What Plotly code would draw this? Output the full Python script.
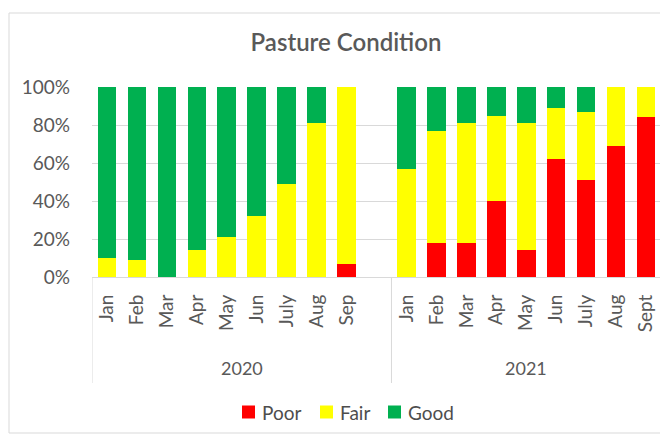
import plotly.graph_objects as go

categories = ["2020-Jan", "2020-Feb", "2020-Mar", "2020-Apr", "2020-May", "2020-Jun",
              "2020-July", "2020-Aug", "2020-Sep", "2020-gap",
              "2021-Jan", "2021-Feb", "2021-Mar", "2021-Apr", "2021-May", "2021-Jun",
              "2021-July", "2021-Aug", "2021-Sept"]
tick_labels = ["Jan", "Feb", "Mar", "Apr", "May", "Jun", "July", "Aug", "Sep", "",
               "Jan", "Feb", "Mar", "Apr", "May", "Jun", "July", "Aug", "Sept"]
years = ["2020", "2021"]
series_names = ["Poor", "Fair", "Good"]
series_colors = ["#FF0000", "#FFFF00", "#00B050"]

poor = [0, 0, 0, 0, 0, 0, 0, 0, 7, None,
        0, 18, 18, 40, 14, 62, 51, 69, 84]
fair = [10, 9, 0, 14, 21, 32, 49, 81, 93, None,
        57, 59, 63, 45, 67, 27, 36, 31, 16]
good = [90, 91, 100, 86, 79, 68, 51, 19, 0, None,
        43, 23, 19, 15, 19, 11, 13, 0, 0]

FONT = "Lato"
GRAY = "#595959"

fig = go.Figure()
for name, vals, col in zip(series_names, [poor, fair, good], series_colors):
    fig.add_trace(go.Bar(name=name, x=categories, y=vals, marker_color=col,
                         marker_line_width=0, showlegend=False))

# page body has an 8px margin; plot area on screen: x 92..661, y 87..277
OFF = 8
def py(pix):
    return (277 - pix) / 190.0
def px(pix):
    return (pix - 92) / 569.0

shapes = []
shapes.append(dict(type="rect", xref="paper", yref="paper",
                   x0=px(9), x1=px(667), y0=py(433), y1=py(13),
                   line=dict(color="#D9D9D9", width=1), fillcolor="rgba(0,0,0,0)", layer="below"))
for xv in [-0.5, 9.5, 18.5]:
    shapes.append(dict(type="line", xref="x", yref="paper", x0=xv, x1=xv,
                       y0=py(383), y1=0, line=dict(color="#D9D9D9", width=1)))

annotations = []
for yr, xc in zip(years, [4.5, 14.0]):
    annotations.append(dict(text=yr, xref="x", yref="paper", x=xc, y=py(368),
                            yanchor="middle", xanchor="center",
                            showarrow=False, font=dict(family=FONT, size=18, color=GRAY)))

# legend (Excel-style: small square then label)
legend_sq_x = [242, 320, 388]
for name, col, sx in zip(series_names, series_colors, legend_sq_x):
    shapes.append(dict(type="rect", xref="paper", yref="paper",
                       x0=px(sx), x1=px(sx + 13), y0=py(418.5), y1=py(405.5),
                       fillcolor=col, line=dict(width=0)))
    annotations.append(dict(text=name, xref="paper", yref="paper", x=px(sx + 18), y=py(412),
                            xanchor="left", yanchor="middle", showarrow=False,
                            font=dict(family=FONT, size=19, color="#4D4D4D")))

fig.update_layout(
    width=668, height=439,
    barmode="stack", bargap=0.38,
    paper_bgcolor="white", plot_bgcolor="white",
    showlegend=False,
    margin=dict(l=92 - OFF, r=668 - (661 - OFF), t=87 - OFF, b=439 - (277 - OFF)),
    title=dict(text="Pasture Condition", x=(346 - OFF) / 668, xref="container", xanchor="center",
               y=1 - (43 - OFF) / 439, yref="container", yanchor="middle",
               font=dict(family=FONT, size=24, color=GRAY, weight=600)),
    xaxis=dict(type="category", categoryorder="array", categoryarray=categories,
               tickmode="array", tickvals=categories, ticktext=tick_labels,
               tickangle=-90, tickfont=dict(family=FONT, size=19, color=GRAY),
               showgrid=False, showline=True, linecolor="#D9D9D9", linewidth=1,
               ticks="", range=[-0.5, 18.5], ticklabelstandoff=9),
    yaxis=dict(range=[0, 100], tickvals=[0, 20, 40, 60, 80, 100],
               ticktext=["0%", "20%", "40%", "60%", "80%", "100%"],
               tickfont=dict(family=FONT, size=19, color=GRAY),
               showgrid=True, gridcolor="#D9D9D9", gridwidth=1,
               zeroline=False, showline=False, ticks="", ticklabelstandoff=21),
    shapes=shapes, annotations=annotations,
)

fig.write_html("out.html")
